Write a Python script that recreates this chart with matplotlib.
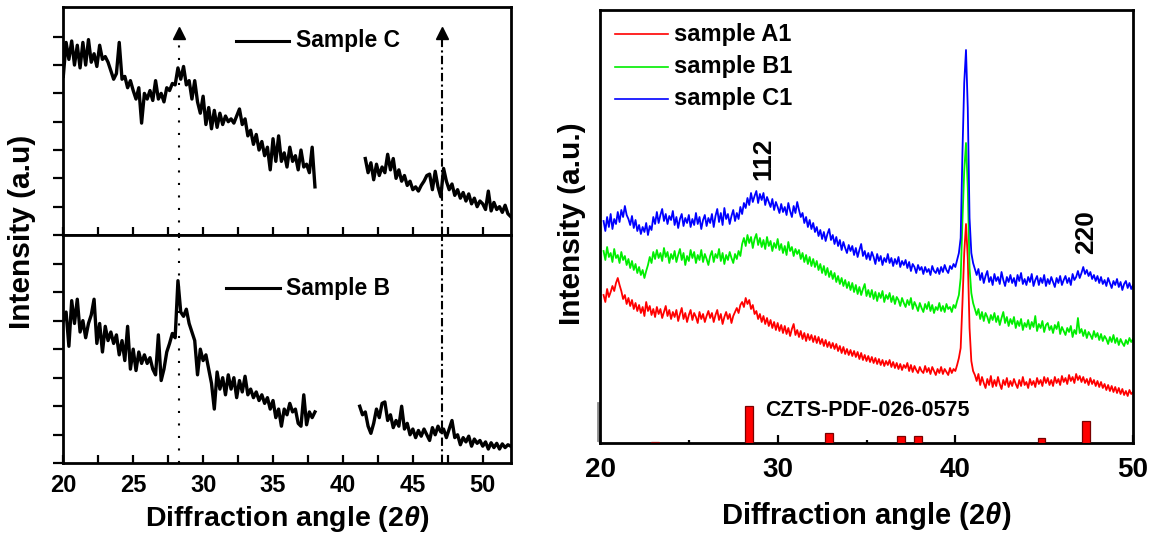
import numpy as np
import matplotlib
matplotlib.use("Agg")
import matplotlib.pyplot as plt

plt.rcParams['font.family'] = ['Liberation Sans', 'DejaVu Sans']
plt.rcParams['font.weight'] = 'bold'
plt.rcParams['mathtext.fontset'] = 'custom'
plt.rcParams['mathtext.rm'] = 'Liberation Sans:bold'
plt.rcParams['mathtext.it'] = 'Liberation Sans:bold:italic'

# ---------------- Left panels (Sample C top, Sample B bottom) ----------------
c_seg1 = [5.6, 6.8, 6.2, 6.85, 6.0, 6.7, 5.9, 6.8, 6.0, 6.9,
          6.1, 6.4, 5.95, 6.7, 6.2, 6.3, 6.1, 5.8, 5.5, 5.7,
          6.8, 5.5, 5.6, 5.2, 5.45, 5.1, 4.8, 5.2, 3.95, 5.0,
          4.8, 5.1, 4.75, 5.45, 4.8, 5.0, 4.7, 5.2, 5.1, 5.35,
          5.3, 5.9, 5.5, 5.95, 5.3, 5.45, 4.8, 5.45, 4.7, 4.3,
          4.9, 3.9, 4.5, 3.75, 4.4, 3.8, 4.3, 3.9, 4.2, 4.0,
          4.1, 3.95, 4.2, 4.45, 3.9, 4.1, 3.5, 3.7, 3.2, 3.55,
          3.0, 3.3, 2.8, 3.1, 2.3, 3.4, 2.6, 3.5, 2.6, 2.9,
          2.4, 3.1, 2.6, 2.8, 2.3, 3.0, 2.4, 2.5, 2.2, 3.1,
          1.7]
c_seg2 = [2.7, 2.2, 2.55, 1.95, 2.5, 2.1, 2.4, 2.2, 2.85, 2.3,
          2.7, 2.0, 2.3, 1.9, 2.1, 1.75, 1.9, 1.6, 1.7, 1.55,
          1.75, 1.9, 2.1, 2.15, 1.6, 2.25, 1.7, 1.35, 2.35, 1.9,
          1.6, 1.8, 1.4, 1.6, 1.3, 1.5, 1.2, 1.45, 1.1, 1.3,
          1.0, 1.2, 1.1, 0.9, 1.55, 0.85, 1.15, 0.9, 1.0, 0.8,
          1.05, 0.75, 0.65]
b_seg1 = [5.0, 5.3, 4.1, 5.7, 4.9, 5.75, 4.6, 5.0, 4.4, 4.9,
          5.2, 5.75, 4.2, 4.9, 3.9, 4.8, 4.3, 4.6, 4.2, 4.5,
          3.8, 4.3, 3.6, 4.8, 3.3, 4.0, 3.25, 3.9, 3.5, 3.8,
          3.5, 3.7, 3.3, 3.1, 4.5, 2.9, 3.3, 3.9, 4.2, 4.55,
          4.4, 6.4, 5.3, 5.15, 5.4, 4.9, 4.6, 4.3, 3.1, 4.0,
          3.6, 3.8, 3.3, 2.8, 1.9, 3.2, 2.6, 3.0, 2.4, 3.1,
          2.6, 3.0, 2.3, 2.9, 2.5, 3.05, 2.4, 2.6, 2.3, 2.5,
          2.2, 2.4, 2.1, 2.3, 1.9, 2.2, 1.6, 1.9, 1.3, 1.9,
          1.7, 2.1, 1.8, 1.9, 1.4, 1.3, 2.4, 1.35, 1.8, 1.6,
          1.8]
b_seg2 = [2.0, 1.7, 1.8, 1.3, 1.05, 1.4, 1.9, 1.6, 2.1, 2.15,
          1.5, 1.7, 1.25, 1.5, 1.3, 2.0, 1.2, 1.4, 1.0, 1.2,
          0.9, 1.15, 0.95, 1.2, 1.0, 0.8, 1.25, 1.0, 1.3, 1.1,
          1.2, 0.9, 1.2, 1.5, 0.9, 1.0, 0.65, 0.9, 0.75, 0.95,
          0.6, 0.85, 0.7, 0.8, 0.6, 0.75, 0.5, 0.72, 0.55, 0.7,
          0.5, 0.68, 0.55, 0.65, 0.6]
c_start = [20.0, 41.6]
b_start = [20.0, 41.2]
step_left = 0.2
marker_lines = [28.3, 47.07]
left_ticks = [20, 25, 30, 35, 40, 45, 50]

# ---------------- Right panel (0.1 deg grid, 20.2 .. 50.0) ----------------
tt_right = np.round(np.linspace(20.2, 50.0, 299), 2)
blue_c1 = [
    222, 212, 226, 216, 229, 214, 224, 219, 231, 221,
    233, 226, 237, 228, 224, 218, 227, 215, 223, 212,
    218, 209, 216, 211, 220, 208, 217, 213, 226, 219,
    231, 220, 228, 234, 222, 229, 219, 227, 223, 232,
    218, 226, 215, 224, 229, 217, 225, 220, 228, 216,
    224, 218, 230, 219, 226, 214, 223, 228, 217, 225,
    220, 229, 216, 227, 234, 221, 230, 218, 235, 224,
    229, 219, 227, 233, 222, 230, 224, 236, 229, 240,
    235, 245, 238, 250, 241, 247, 252, 240, 249, 243,
    250, 238, 246, 241, 236, 244, 233, 241, 236, 230,
    239, 231, 236, 228, 240, 232, 226, 237, 230, 241,
    233, 226, 230, 220, 226, 216, 223, 214, 220, 211,
    216, 207, 213, 204, 211, 202, 209, 214, 203, 208,
    199, 206, 197, 203, 193, 201, 195, 190, 198, 192,
    197, 188, 195, 186, 193, 199, 187, 192, 184, 190,
    183, 191, 186, 179, 189, 182, 187, 178, 185, 181,
    189, 180, 185, 177, 184, 179, 186, 176, 182, 178,
    183, 175, 181, 172, 179, 176, 170, 178, 173, 176,
    169, 176, 171, 174, 168, 177, 172, 170, 175, 169,
    176, 171, 178, 173, 170, 177, 174, 179, 176, 183,
    190, 205, 290, 360, 393, 335, 225, 190, 180, 174,
    168, 174, 163, 170, 160, 167, 172, 161, 166, 158,
    169, 162, 166, 159, 171, 163, 157, 166, 161, 168,
    160, 165, 157, 168, 162, 170, 159, 164, 158, 166,
    161, 169, 157, 163, 167, 158, 165, 160, 168, 157,
    164, 159, 166, 161, 156, 165, 160, 167, 158, 163,
    167, 160, 165, 158, 169, 163, 166, 172, 165, 170,
    176, 169, 173, 167, 171, 164, 168, 162, 167, 160,
    166, 159, 163, 157, 165, 160, 155, 162, 158, 164,
    156, 161, 153, 159, 162, 155, 160, 154, 158]
green_b1 = [
    192, 183, 196, 186, 190, 181, 194, 185, 188, 180,
    191, 183, 187, 178, 184, 175, 182, 173, 179, 170,
    176, 168, 173, 165, 172, 178, 186, 180, 191, 184,
    193, 185, 190, 182, 195, 186, 191, 180, 189, 184,
    192, 181, 188, 194, 183, 190, 178, 187, 182, 193,
    185, 191, 180, 188, 183, 193, 181, 189, 184, 178,
    187, 192, 181, 189, 185, 194, 182, 190, 179, 188,
    183, 191, 185, 180, 189, 184, 192, 187, 199, 205,
    197, 208, 200, 206, 195, 204, 209, 198, 205, 196,
    203, 194, 206, 197, 202, 192, 200, 195, 204, 193,
    199, 190, 197, 188, 201, 192, 196, 187, 194, 189,
    193, 184, 190, 181, 188, 179, 186, 177, 184, 176,
    182, 173, 179, 170, 177, 168, 175, 166, 172, 164,
    170, 161, 167, 159, 165, 157, 163, 155, 161, 153,
    160, 151, 158, 149, 156, 148, 154, 159, 147, 153,
    146, 153, 144, 151, 142, 150, 145, 152, 141, 148,
    144, 150, 141, 147, 139, 146, 143, 137, 145, 140,
    136, 143, 138, 145, 134, 141, 137, 132, 140, 135,
    131, 139, 134, 141, 132, 138, 130, 136, 133, 140,
    132, 137, 131, 139, 134, 136, 131, 138, 135, 142,
    148, 165, 222, 272, 300, 255, 175, 150, 140, 134,
    128, 134, 124, 131, 122, 130, 126, 120, 128, 123,
    130, 121, 127, 118, 125, 131, 120, 126, 117, 124,
    119, 126, 115, 122, 117, 124, 113, 120, 116, 123,
    114, 121, 116, 127, 112, 119, 115, 122, 111, 118,
    120, 113, 117, 110, 118, 114, 121, 109, 116, 112,
    108, 115, 111, 117, 106, 113, 109, 125, 110, 114,
    107, 113, 105, 111, 108, 104, 112, 106, 110, 103,
    109, 102, 107, 104, 99, 106, 101, 108, 100, 105,
    98, 104, 100, 97, 103, 99, 105, 101, 104]
red_a1 = [
    148, 141, 154, 146, 151, 157, 152, 160, 165, 158,
    152, 144, 148, 139, 145, 137, 143, 134, 140, 132,
    138, 130, 136, 127, 141, 132, 137, 128, 134, 126,
    136, 129, 134, 125, 131, 137, 127, 133, 124, 131,
    126, 133, 122, 129, 135, 124, 130, 121, 128, 133,
    123, 130, 126, 120, 131, 124, 129, 121, 127, 132,
    125, 130, 121, 128, 133, 123, 129, 119, 126, 131,
    124, 129, 120, 127, 131, 135, 130, 138, 141, 136,
    145, 139, 143, 134, 138, 129, 132, 124, 129, 121,
    127, 119, 125, 117, 123, 115, 121, 113, 120, 112,
    118, 110, 117, 109, 115, 107, 114, 119, 108, 113,
    106, 112, 104, 110, 102, 109, 103, 108, 101, 107,
    100, 106, 99, 104, 97, 103, 96, 101, 95, 100,
    94, 99, 92, 97, 90, 96, 89, 94, 88, 93,
    87, 92, 86, 91, 84, 90, 83, 88, 82, 87,
    81, 86, 80, 85, 79, 84, 78, 83, 77, 82,
    78, 83, 76, 81, 75, 80, 74, 79, 73, 78,
    75, 80, 72, 78, 71, 77, 73, 70, 76, 72,
    70, 77, 71, 75, 69, 76, 72, 68, 74, 70,
    76, 69, 74, 71, 68, 75, 70, 74, 72, 78,
    85, 95, 140, 190, 219, 185, 115, 82, 72, 68,
    62, 69, 58, 66, 60, 55, 64, 58, 67, 56,
    63, 57, 66, 59, 54, 63, 58, 65, 56, 62,
    57, 64, 59, 55, 63, 57, 66, 58, 61, 55,
    64, 58, 62, 56, 65, 59, 63, 57, 66, 60,
    65, 58, 63, 57, 66, 60, 64, 58, 67, 61,
    65, 59, 68, 62, 66, 60, 69, 63, 67, 61,
    66, 60, 64, 58, 65, 59, 63, 57, 62, 56,
    61, 55, 59, 53, 58, 52, 57, 51, 56, 50,
    55, 49, 54, 48, 52, 47, 53, 49, 51]
series_names = ['sample A1', 'sample B1', 'sample C1']
series_colors = ['#ff0000', '#00ee00', '#0000ff']
ref_pos = [23.1, 28.4, 32.9, 36.95, 37.9, 44.85, 47.35]
ref_int = [1.5, 37, 10, 7, 7, 5, 22]
hkl_labels = ['112', '220']
hkl_pos = [29.2, 47.34]
hkl_y = [284, 211]

fig = plt.figure(figsize=(11.52, 5.37), dpi=100)
W, H = 1152.0, 537.0

def ax_rect(x0, y0, x1, y1):
    return [x0 / W, 1 - y1 / H, (x1 - x0) / W, (y1 - y0) / H]

axT = fig.add_axes(ax_rect(63.3, 7, 510.7, 235))
axB = fig.add_axes(ax_rect(63.3, 235, 510.7, 463.3))

def style_left(ax, ylim, labels):
    ax.set_xlim(20, 52)
    ax.set_ylim(*ylim)
    for s in ax.spines.values():
        s.set_linewidth(2.0)
    ax.set_xticks(left_ticks)
    ax.set_xticks(np.arange(22.5, 52, 5), minor=True)
    ax.set_yticks(np.arange(0, 8, 1))
    ax.tick_params(axis='x', which='both', direction='in', length=6, width=1.6,
                   top=False, bottom=True, labelsize=17, pad=8)
    ax.tick_params(axis='y', which='both', direction='out', length=7.5, width=1.6,
                   left=True, right=False, labelleft=False)
    if not labels:
        ax.tick_params(axis='x', labelbottom=False)
    for lab in ax.get_xticklabels():
        lab.set_fontweight('bold')

style_left(axT, (0, 8.05), False)
style_left(axB, (0, 8.0), True)

for ax, segs, starts in ((axT, (c_seg1, c_seg2), c_start), (axB, (b_seg1, b_seg2), b_start)):
    for seg, st in zip(segs, starts):
        xs = st + step_left * np.arange(len(seg))
        ax.plot(xs, seg, color='black', lw=2.4, solid_joinstyle='round')

for ax, ytop in ((axT, 7.0), (axB, 8.0)):
    ax.plot([marker_lines[0]] * 2, [0, ytop], color='black', lw=1.5,
            linestyle=(0, (1, 5)))
    ax.plot([marker_lines[1]] * 2, [0, ytop], color='black', lw=1.5,
            linestyle=(0, (4, 1.6, 1, 1.6)))
for xm in marker_lines:
    axT.plot([xm], [7.13], marker='^', color='black', markersize=9, clip_on=False)

axT.plot([32.36, 36.16], [6.86, 6.86], color='black', lw=2.2)
axT.text(36.62, 6.86, 'Sample C', fontsize=16.5, fontweight='bold', va='center', ha='left')
axB.plot([31.67, 35.48], [6.14, 6.14], color='black', lw=2.2)
axB.text(35.9, 6.14, 'Sample B', fontsize=16.5, fontweight='bold', va='center', ha='left')

fig.text(22 / W, 1 - 232 / H, 'Intensity (a.u)', rotation=90, fontsize=21.5,
         fontweight='bold', ha='center', va='center')
fig.text(287 / W, 1 - 519 / H, r'Diffraction angle (2$\theta$)', fontsize=20.5,
         fontweight='bold', ha='center', va='center')

# ---------------- right panel ----------------
axR = fig.add_axes(ax_rect(600, 10, 1133, 443))
axR.set_xlim(20, 50)
axR.set_ylim(0, 433)
for s in axR.spines.values():
    s.set_linewidth(2.0)
axR.set_xticks([20, 30, 40, 50])
axR.set_xticks([25, 35, 45], minor=True)
axR.set_yticks([])
axR.tick_params(axis='x', which='major', direction='in', length=6, width=1.6,
                labelsize=20, pad=10)
axR.tick_params(axis='x', which='minor', direction='in', length=2.5, width=1.6)
for lab in axR.get_xticklabels():
    lab.set_fontweight('bold')

for vals, name, col in zip((red_a1, green_b1, blue_c1), series_names, series_colors):
    axR.plot(tt_right, vals, color=col, lw=1.3, label=name)

axR.bar(ref_pos, ref_int, width=0.45, bottom=0, color='#ff0000',
        edgecolor='#7a0000', linewidth=0.9, zorder=3)
axR.plot([19.88, 19.88], [3, 40], color='#8a8a8a', lw=2.0, clip_on=False)
axR.text(29.29, 33, 'CZTS-PDF-026-0575', fontsize=15.5, fontweight='bold',
         ha='left', va='center')
for lab, xp, yp in zip(hkl_labels, hkl_pos, hkl_y):
    axR.text(xp, yp, lab, rotation=90, fontsize=19, fontweight='bold',
             ha='center', va='center')

leg_y = [409, 376, 344]
for name, col, yy in zip(series_names, series_colors, leg_y):
    axR.plot([20.84, 23.83], [yy, yy], color=col, lw=1.2)
    axR.text(24.14, yy, name, fontsize=17, fontweight='bold', ha='left', va='center')

fig.text(572 / W, 1 - 224 / H, 'Intensity (a.u.)', rotation=90, fontsize=21.5,
         fontweight='bold', ha='center', va='center')
fig.text(866 / W, 1 - 516 / H, r'Diffraction angle (2$\theta$)', fontsize=21,
         fontweight='bold', ha='center', va='center')

fig.savefig('out.png', dpi=100)
